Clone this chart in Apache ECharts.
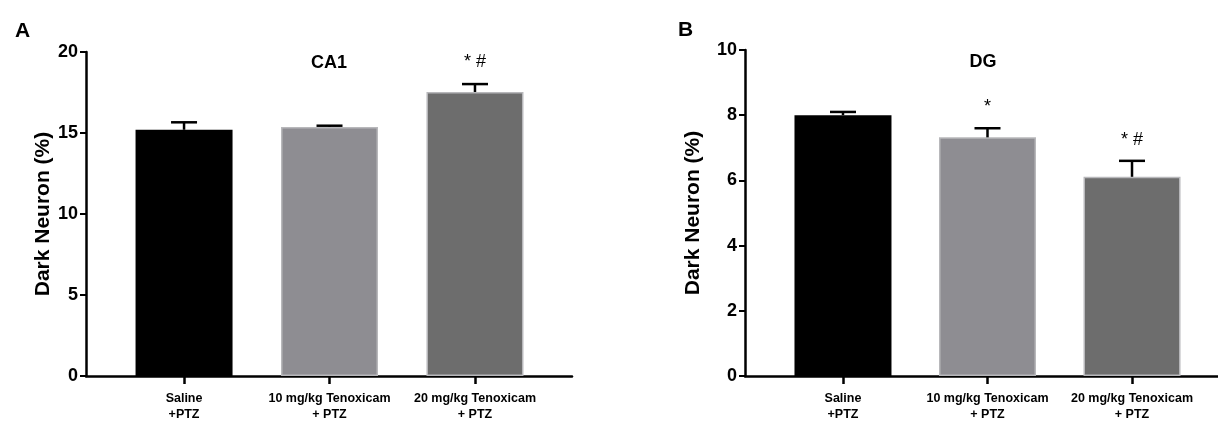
<!DOCTYPE html>
<html><head><meta charset="utf-8">
<script src="https://cdn.jsdelivr.net/npm/echarts@6/dist/echarts.min.js"></script>
<style>html,body{margin:0;padding:0;background:#fff}#c{width:1218px;height:423px}</style>
</head><body><div id="c"></div>
<script>
const categories = ['Saline\n+PTZ', '10 mg/kg Tenoxicam\n+ PTZ', '20 mg/kg Tenoxicam\n+ PTZ'];
const barColors = ['#000000', '#8e8d92', '#6d6d6d'];
const ca1Values = [15.2, 15.37, 17.53];
const ca1Errors = [0.46, 0.08, 0.49];
const ca1Marks = ['', '', '* #'];
const dgValues = [8.0, 7.32, 6.11];
const dgErrors = [0.1, 0.28, 0.49];
const dgMarks = ['', '*', '* #'];
const ca1Ticks = [0, 5, 10, 15, 20];
const dgTicks = [0, 2, 4, 6, 8, 10];

const FONT = '"Liberation Sans", Arial, sans-serif';
const chart = echarts.init(document.getElementById('c'), null, {renderer: 'canvas'});

function panel(idx, values, errors, marks, ticks, cfg) {
  const xAxis = {
    gridIndex: idx, type: 'value', min: cfg.xmin, max: cfg.xmax,
    splitLine: {show: false},
    axisLine: {show: true, onZero: false, lineStyle: {color: '#000', width: 2.5}},
    axisTick: {show: true, customValues: [0, 1, 2], length: 8, lineStyle: {color: '#000', width: 2.5}},
    axisLabel: {show: true, customValues: [0, 1, 2], formatter: v => categories[Math.round(v)],
      fontFamily: FONT, fontWeight: 'bold', fontSize: 12.5, color: '#000', lineHeight: 16, margin: 15}
  };
  const yAxis = {
    gridIndex: idx, type: 'value', min: ticks[0], max: ticks[ticks.length - 1],
    interval: ticks[1] - ticks[0],
    splitLine: {show: false},
    axisLine: {show: true, onZero: false, lineStyle: {color: '#000', width: 2.5}},
    axisTick: {show: true, length: 6, lineStyle: {color: '#000', width: 2}},
    axisLabel: {fontFamily: FONT, fontWeight: 'bold', fontSize: 18, color: '#000', margin: 8},
    name: 'Dark Neuron (%)', nameLocation: 'middle', nameGap: cfg.nameGap,
    nameTextStyle: {fontFamily: FONT, fontWeight: 'bold', fontSize: 21, color: '#000'}
  };
  const bar = {
    type: 'bar', xAxisIndex: idx, yAxisIndex: idx, barWidth: 97,
    data: values.map((v, i) => ({value: [i, v], itemStyle: {color: barColors[i], borderColor: i ? '#b8b8bb' : '#000', borderWidth: i ? 1.5 : 0}})),
    silent: true, animation: false
  };
  const err = {
    type: 'custom', xAxisIndex: idx, yAxisIndex: idx, z: 5, silent: true, animation: false,
    data: values.map((v, i) => [i, v, errors[i]]),
    renderItem: (params, api) => {
      const x = api.value(0), y = api.value(1), e = api.value(2);
      const p0 = api.coord([x, y]), p1 = api.coord([x, y + e]);
      const st = {stroke: '#000', lineWidth: 2.5};
      const children = [
        {type: 'line', shape: {x1: p0[0], y1: p0[1], x2: p1[0], y2: p1[1]}, style: st},
        {type: 'line', shape: {x1: p1[0] - 13, y1: p1[1], x2: p1[0] + 13, y2: p1[1]}, style: st}
      ];
      const m = marks[params.dataIndex];
      if (m) children.push({type: 'text', style: {text: m, x: p1[0], y: p1[1] - cfg.markGap,
        align: 'center', verticalAlign: 'middle', fontFamily: FONT,
        fontSize: 18, fontWeight: 'normal', fill: '#000'}});
      return {type: 'group', children};
    }
  };
  return {xAxis, yAxis, series: [bar, err]};
}

const p1 = panel(0, ca1Values, ca1Errors, ca1Marks, ca1Ticks, {xmin: -0.674, xmax: 2.667, nameGap: 32, markGap: 22});
const p2 = panel(1, dgValues, dgErrors, dgMarks, dgTicks, {xmin: -0.678, xmax: 2.595, nameGap: 41, markGap: 21});

chart.setOption({
  animation: false,
  title: [
    {text: 'A', left: 10, top: 16, textStyle: {fontFamily: FONT, fontWeight: 'bold', fontSize: 21, color: '#000'}},
    {text: 'B', left: 673, top: 15, textStyle: {fontFamily: FONT, fontWeight: 'bold', fontSize: 21, color: '#000'}},
    {text: 'CA1', left: 324, top: 49, textAlign: 'center', textStyle: {fontFamily: FONT, fontWeight: 'bold', fontSize: 18, color: '#000'}},
    {text: 'DG', left: 978, top: 48, textAlign: 'center', textStyle: {fontFamily: FONT, fontWeight: 'bold', fontSize: 18, color: '#000'}}
  ],
  grid: [
    {left: 86, width: 486, top: 52, height: 327},
    {left: 745, width: 473, top: 50, height: 327}
  ],
  xAxis: [p1.xAxis, p2.xAxis],
  yAxis: [p1.yAxis, p2.yAxis],
  series: [...p1.series, ...p2.series]
});
</script></body></html>
